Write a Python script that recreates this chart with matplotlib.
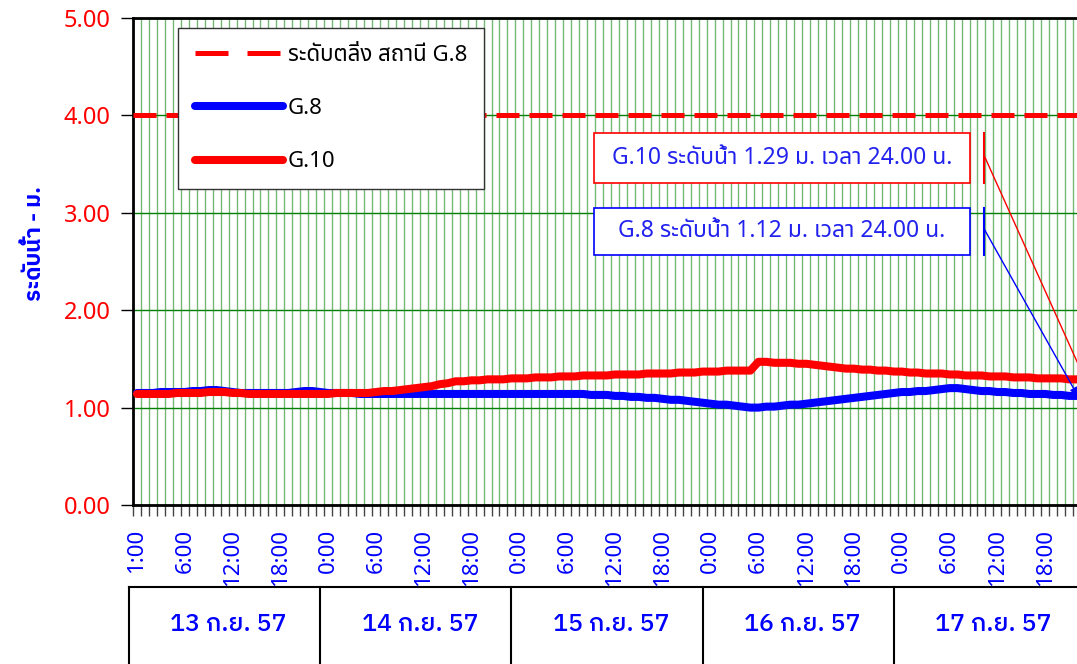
import matplotlib
matplotlib.use('Agg')
import matplotlib.pyplot as plt
from matplotlib import font_manager, ft2font
from matplotlib.lines import Line2D
from matplotlib.patches import Rectangle
import numpy as np

# hourly water level, 13-17 Sep 57, hour 1:00 .. 24:00
g8 = [1.15, 1.15, 1.15, 1.16, 1.16, 1.16, 1.16, 1.17, 1.17, 1.18, 1.18, 1.17,
      1.16, 1.15, 1.15, 1.15, 1.15, 1.15, 1.15, 1.15, 1.16, 1.17, 1.17, 1.16,
      1.15, 1.15, 1.15, 1.15, 1.14, 1.14, 1.14, 1.14, 1.14, 1.14, 1.14, 1.14,
      1.14, 1.14, 1.14, 1.14, 1.14, 1.14, 1.14, 1.14, 1.14, 1.14, 1.14, 1.14,
      1.14, 1.14, 1.14, 1.14, 1.14, 1.14, 1.14, 1.14, 1.14, 1.13, 1.13, 1.13,
      1.12, 1.12, 1.11, 1.11, 1.10, 1.10, 1.09, 1.08, 1.08, 1.07, 1.06, 1.05,
      1.04, 1.03, 1.03, 1.02, 1.01, 1.00, 1.00, 1.01, 1.01, 1.02, 1.03, 1.03,
      1.04, 1.05, 1.06, 1.07, 1.08, 1.09, 1.10, 1.11, 1.12, 1.13, 1.14, 1.15,
      1.16, 1.16, 1.17, 1.17, 1.18, 1.19, 1.20, 1.20, 1.19, 1.18, 1.17, 1.17,
      1.16, 1.16, 1.15, 1.15, 1.14, 1.14, 1.14, 1.13, 1.13, 1.12, 1.12, 1.12]
g10 = [1.14, 1.14, 1.14, 1.14, 1.14, 1.15, 1.15, 1.15, 1.15, 1.16, 1.16, 1.16,
       1.15, 1.15, 1.14, 1.14, 1.14, 1.14, 1.14, 1.14, 1.14, 1.14, 1.14, 1.14,
       1.14, 1.15, 1.15, 1.15, 1.15, 1.15, 1.16, 1.17, 1.17, 1.18, 1.19, 1.20,
       1.21, 1.22, 1.24, 1.25, 1.27, 1.27, 1.28, 1.28, 1.29, 1.29, 1.29, 1.30,
       1.30, 1.30, 1.31, 1.31, 1.31, 1.32, 1.32, 1.32, 1.33, 1.33, 1.33, 1.33,
       1.34, 1.34, 1.34, 1.34, 1.35, 1.35, 1.35, 1.35, 1.36, 1.36, 1.36, 1.37,
       1.37, 1.37, 1.38, 1.38, 1.38, 1.38, 1.47, 1.47, 1.46, 1.46, 1.46, 1.45,
       1.45, 1.44, 1.43, 1.42, 1.41, 1.40, 1.40, 1.39, 1.39, 1.38, 1.38, 1.37,
       1.37, 1.36, 1.36, 1.35, 1.35, 1.35, 1.34, 1.34, 1.33, 1.33, 1.33, 1.32,
       1.32, 1.32, 1.31, 1.31, 1.31, 1.30, 1.30, 1.30, 1.30, 1.29, 1.29, 1.29]
bank_level = 4.0
hour_labels = ['1:00', '6:00', '12:00', '18:00'] + ['0:00', '6:00', '12:00', '18:00'] * 4
day_labels = ['13 ก.ย. 57', '14 ก.ย. 57', '15 ก.ย. 57', '16 ก.ย. 57', '17 ก.ย. 57']

# fonts with thai glyphs (regular one plus one that has a bold weight)
thai = {}
for f in font_manager.fontManager.ttflist:
    try:
        if ord('ร') in ft2font.FT2Font(f.fname).get_charmap():
            thai.setdefault(f.name, set()).add(f.weight)
    except Exception:
        pass
prefer = ['Noto Sans Thai', 'Anuphan', 'IBM Plex Sans Thai', 'Sarabun']
pick = [p for p in prefer if p in thai] + sorted(thai)
plt.rcParams['font.family'] = pick[:1] + ['DejaVu Sans']
bold_pick = [p for p in ['IBM Plex Sans Thai', 'Bai Jamjuree'] if p in thai] + pick
bold_family = bold_pick[:1] + ['DejaVu Sans']

BLUE = '#0000ff'
TXT_BLUE = '#2222ee'
RED = '#ff0000'
GREEN = '#008000'

x = np.arange(len(g8))

fig = plt.figure(figsize=(10.77, 6.64), dpi=100)
ax = fig.add_axes([133 / 1077, 159 / 664, 956 / 1077, 487 / 664])

ax.axhline(bank_level, color=RED, lw=3.6, dashes=(4.6, 2.0), dash_capstyle='butt', zorder=3)
ax.plot(x, g8, color=BLUE, lw=5.8, solid_capstyle='round', zorder=4)
ax.plot(x, g10, color=RED, lw=5.8, solid_capstyle='round', zorder=5)

ax.set_xlim(-0.5, len(x) - 0.5)
ax.set_ylim(0, 5)
ax.set_yticks(np.arange(0, 5.01, 1))
ax.set_yticklabels([f'{v:.2f}' for v in np.arange(0, 5.01, 1)])
ax.tick_params(axis='y', colors='black', labelcolor=RED, labelsize=17, length=9, width=1, pad=7)

lab_pos = [0] + list(range(6, len(x), 6))
ax.set_xticks(lab_pos)
ax.set_xticklabels(hour_labels, rotation=90)
ax.set_xticks(np.arange(-0.5, len(x), 1), minor=True)
ax.tick_params(axis='x', which='major', length=0, pad=17, labelcolor=BLUE, labelsize=16)
ax.tick_params(axis='x', which='minor', length=8, width=1, color='#444444')

ax.set_axisbelow(True)
ax.grid(axis='y', which='major', color=GREEN, lw=1)
ax.grid(axis='x', which='minor', color=GREEN, lw=1, alpha=0.55)

for s in ['left', 'bottom', 'top']:
    ax.spines[s].set_linewidth(2)
    ax.spines[s].set_color('black')
ax.spines['right'].set_visible(False)

ax.set_ylabel('ระดับน้ำ - ม.', color=BLUE, fontsize=16, fontweight='bold', family=bold_family)
ax.yaxis.set_label_coords(-0.092, 0.536)

# legend
handles = [Line2D([], [], color=RED, lw=3.6, dashes=(6.6, 3.8), dash_capstyle='butt'),
           Line2D([], [], color=BLUE, lw=5.8, solid_capstyle='round'),
           Line2D([], [], color=RED, lw=5.8, solid_capstyle='round')]
leg = ax.legend(handles, ['ระดับตลิ่ง สถานี G.8', 'G.8', 'G.10'], loc='upper left',
                bbox_to_anchor=(0.047, 0.979), borderaxespad=0, fontsize=16,
                handlelength=4.0, handletextpad=0.2, labelspacing=1.45, borderpad=0.75,
                fancybox=False, framealpha=1, edgecolor='#333333')
leg.get_frame().set_linewidth(1)
leg.set_zorder(6)

# call-outs for the last reading
for series, name, col, y0, y1, dx in [(g10, 'G.10', RED, 3.31, 3.82, 0.0),
                                      (g8, 'G.8', BLUE, 2.57, 3.05, -0.9)]:
    ax.add_patch(Rectangle((57.4, y0), 47.1, y1 - y0, facecolor='white', edgecolor=col, lw=1.2, zorder=7))
    ax.text(80.95, (y0 + y1) / 2, f'{name} ระดับน้ำ {series[-1]:.2f} ม. เวลา 24.00 น.',
            color=TXT_BLUE, fontsize=16.5, ha='center', va='center', zorder=8)
    ax.plot([106.3, 106.3], [y0, y1], color=col, lw=1.5, zorder=7)
    ax.annotate('', xy=(x[-1] + dx, series[-1]), xytext=(106.3, (y0 + y1) / 2 + 0.03),
                arrowprops=dict(arrowstyle='-|>', color=col, lw=1, mutation_scale=12,
                                shrinkA=0, shrinkB=0), annotation_clip=False, zorder=7)

# date row under the hour labels
tr = ax.get_xaxis_transform()
ax.plot([-1, len(x) + 2], [-0.168, -0.168], color='black', lw=1.5, transform=tr, clip_on=False)
for k in range(len(day_labels)):
    ax.plot([24 * k - 1, 24 * k - 1], [-0.168, -0.35], color='black', lw=1.5, transform=tr, clip_on=False)
    ax.text(24 * k + 11.5, -0.246, day_labels[k], color=BLUE, fontsize=18, fontweight='medium',
            family=bold_family, ha='center', va='center', transform=tr)

fig.savefig('out.png', dpi=100)
